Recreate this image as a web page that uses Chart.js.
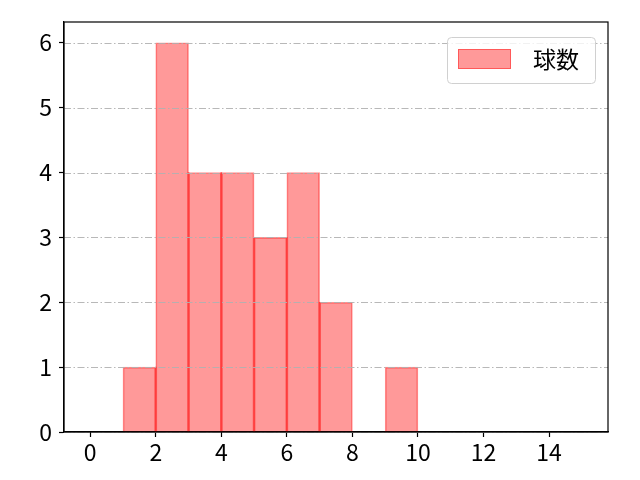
<!DOCTYPE html>
<html>
<head>
<meta charset="utf-8">
<script src="https://cdn.jsdelivr.net/npm/chart.js@4"></script>
<style>
html,body{margin:0;padding:0;background:#fff;}
canvas{display:block;}
</style>
</head>
<body>
<canvas id="c" width="640" height="480"></canvas>
<script>
const binCenters = [1.5, 2.5, 3.5, 4.5, 5.5, 6.5, 7.5, 8.5, 9.5];
const counts = [1, 6, 4, 4, 3, 4, 2, 0, 1];
const seriesLabel = '球数';
const xTicks = [0, 2, 4, 6, 8, 10, 12, 14];
const yTicks = [0, 1, 2, 3, 4, 5, 6];

// shared bin edges (where neighbouring bars touch) and the overlap height there
const innerEdges = counts.slice(1).map((c, i) => ({
  x: binCenters[i] + (binCenters[i + 1] - binCenters[i]) / 2,
  y: Math.min(counts[i], c)
}));

const FONT = '"Noto Sans CJK JP", "DejaVu Sans", sans-serif';
const FS = 23;

// horizontal grid lines drawn above the bars (as in the reference), at the y scale's ticks
const gridOverPlugin = {
  id: 'gridOver',
  afterDatasetsDraw(chart) {
    const {ctx, chartArea: a, scales: {y}} = chart;
    ctx.save();
    ctx.strokeStyle = 'rgba(176,176,176,0.9)';
    ctx.lineWidth = 1;
    ctx.setLineDash([7, 2.5, 1.5, 2.5]);
    y.ticks.forEach(t => {
      const py = Math.round(y.getPixelForValue(t.value)) + 0.5;
      ctx.beginPath();
      ctx.moveTo(a.left, py);
      ctx.lineTo(a.right, py);
      ctx.stroke();
    });
    ctx.restore();
  }
};

const framePlugin = {
  id: 'frame',
  afterDraw(chart) {
    const {ctx, chartArea: a} = chart;
    ctx.save();
    ctx.strokeStyle = '#000';
    ctx.lineWidth = 1.2;
    ctx.strokeRect(a.left, a.top, a.right - a.left, a.bottom - a.top);
    // legend
    const w = 148, h = 46;
    const x = a.right - 13 - w, y = a.top + 15;
    ctx.fillStyle = 'rgba(255,255,255,0.8)';
    ctx.strokeStyle = '#d0d0d0';
    ctx.lineWidth = 1;
    ctx.beginPath();
    ctx.roundRect(x + 0.5, y + 0.5, w, h, 4);
    ctx.fill();
    ctx.stroke();
    ctx.fillStyle = 'rgba(255,0,0,0.4)';
    ctx.strokeStyle = 'rgba(255,0,0,0.42)';
    ctx.fillRect(x + 11, y + 12, 53, 20);
    ctx.strokeRect(x + 11.5, y + 12.5, 52, 19);
    ctx.fillStyle = '#000';
    ctx.font = FS + 'px ' + FONT;
    ctx.textBaseline = 'middle';
    ctx.fillText(chart.data.datasets[0].label, x + 86, y + 22);
    ctx.restore();
  }
};

new Chart(document.getElementById('c'), {
  type: 'bar',
  data: {
    datasets: [{
      label: seriesLabel,
      data: binCenters.map((x, i) => ({x: x, y: counts[i]})),
      backgroundColor: 'rgba(255,0,0,0.4)',
      borderColor: 'rgba(255,0,0,0.43)',
      borderWidth: 1,
      borderSkipped: 'start',
      barPercentage: 1,
      categoryPercentage: 1,
      grouped: false
    }, {
      label: 'edges',
      xAxisID: 'x2',
      data: innerEdges,
      backgroundColor: 'rgba(255,0,0,0.5)',
      borderWidth: 0,
      barThickness: 1.1,
      grouped: false
    }]
  },
  options: {
    responsive: false,
    animation: false,
    layout: {padding: {left: 0, right: 32, top: 22, bottom: 0}},
    plugins: {legend: {display: false}, tooltip: {enabled: false}},
    scales: {
      x: {
        type: 'linear',
        offset: false,
        min: -0.8,
        max: 15.8,
        afterBuildTicks: s => { s.ticks = xTicks.map(v => ({value: v})); },
        afterFit: s => { s.height = 48; },
        grid: {offset: false, drawOnChartArea: false, drawTicks: true, tickLength: 5, tickColor: '#000', tickWidth: 1.2},
        border: {display: true, color: '#000', width: 1.2},
        ticks: {font: {family: FONT, size: FS}, color: '#000', padding: 1, maxRotation: 0}
      },
      x2: {
        type: 'linear',
        display: false,
        offset: false,
        min: -0.8,
        max: 15.8
      },
      y: {
        min: 0,
        max: 6.32,
        afterBuildTicks: s => { s.ticks = yTicks.map(v => ({value: v})); },
        afterFit: s => { s.width = 64; },
        grid: {drawOnChartArea: false, drawTicks: true, tickLength: 5, tickColor: '#000', tickWidth: 1.2},
        border: {display: true, color: '#000', width: 1.2},
        ticks: {font: {family: FONT, size: FS}, color: '#000', padding: 7}
      }
    }
  },
  plugins: [gridOverPlugin, framePlugin]
});
</script>
</body>
</html>
